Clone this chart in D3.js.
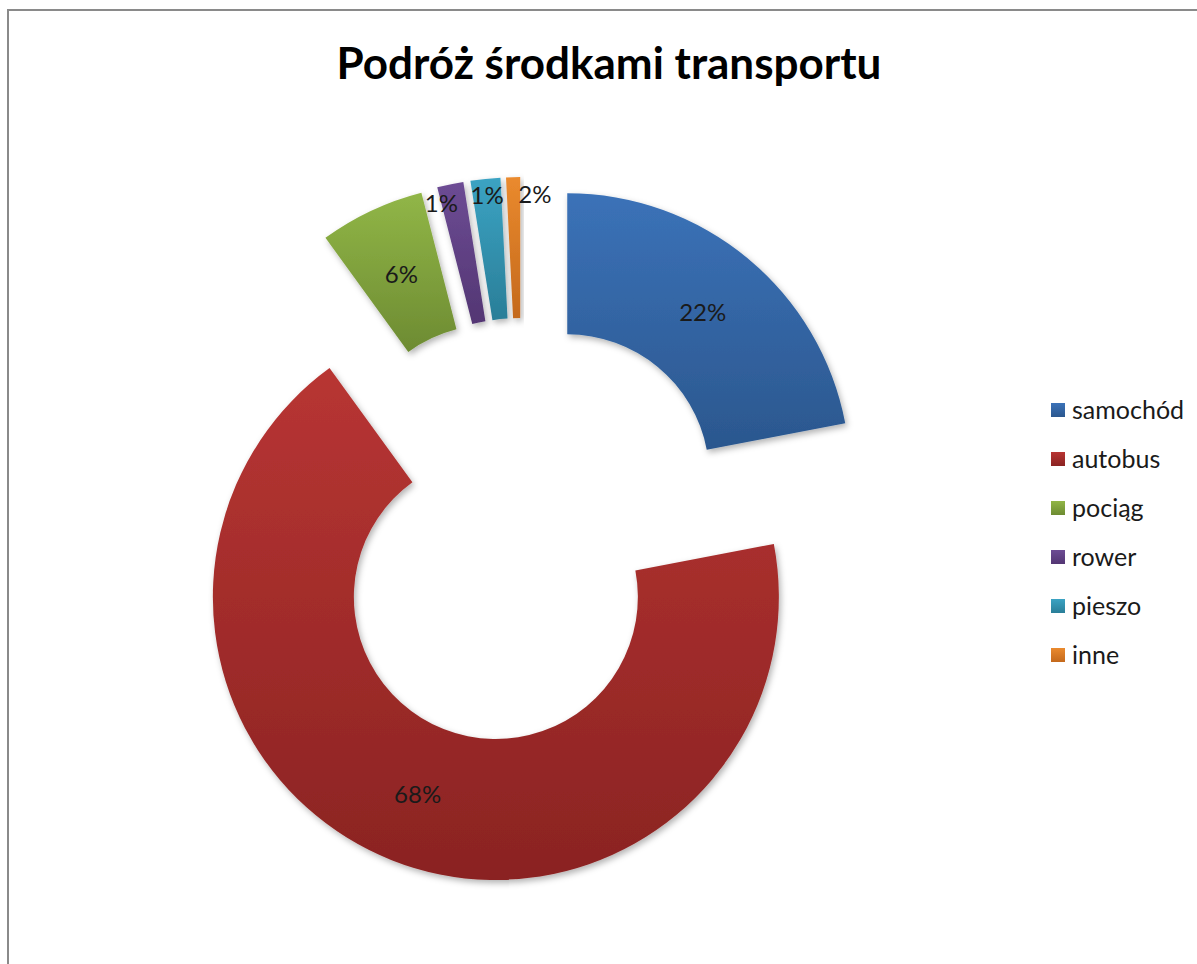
<!DOCTYPE html>
<html>
<head>
<meta charset="utf-8">
<script src="https://cdn.jsdelivr.net/npm/d3@7"></script>
<style>
  body { margin: 0; background: #fff; }
  svg { display: block; font-family: Lato, "Open Sans", sans-serif; }
</style>
</head>
<body>
<svg id="chart" width="1197" height="964"></svg>
<script>
// data
var categories = ["samochód", "autobus", "pociąg", "rower", "pieszo", "inne"];
var values = [22, 68, 6, 1.5, 1.7, 0.8];
var labels = ["22%", "68%", "6%", "1%", "1%", "2%"];
var colorsTop = ["#3b72b8", "#b83533", "#91b647", "#6d4c94", "#3ba3c3", "#ea8a2e"];
var colorsBottom = ["#2b578e", "#8a2322", "#6d8b32", "#533673", "#2a7e98", "#c4691c"];

var svg = d3.select("#chart");
var defs = svg.append("defs");

// soft shadow like excel
var f = defs.append("filter").attr("id", "shadow")
    .attr("x", "-20%").attr("y", "-20%").attr("width", "140%").attr("height", "140%");
f.append("feDropShadow").attr("dx", 2).attr("dy", 3).attr("stdDeviation", 3)
    .attr("flood-color", "#000").attr("flood-opacity", 0.3);

categories.forEach(function (c, i) {
    var g = defs.append("linearGradient").attr("id", "grad" + i)
        .attr("x1", 0).attr("y1", 0).attr("x2", 0).attr("y2", 1);
    g.append("stop").attr("offset", "0%").attr("stop-color", colorsTop[i]);
    g.append("stop").attr("offset", "100%").attr("stop-color", colorsBottom[i]);
});

// frame (runs off the right and bottom edge)
svg.append("rect")
    .attr("x", 8).attr("y", 10)
    .attr("width", 1260).attr("height", 1000)
    .attr("fill", "none").attr("stroke", "#8a8a8a").attr("stroke-width", 2);

svg.append("text")
    .attr("x", 609).attr("y", 79)
    .attr("text-anchor", "middle")
    .attr("font-size", 44).attr("font-weight", "bold")
    .attr("fill", "#000")
    .text("Podróż środkami transportu");

var cx = 522, cy = 531;
var outerR = 283, innerR = 142, explode = 71;

var data = categories.map(function (c, i) {
    return {name: c, value: values[i], label: labels[i], idx: i};
});

var pie = d3.pie().sort(null).value(function (d) { return d.value; });
var arc = d3.arc().innerRadius(innerR).outerRadius(outerR);
var arcs = pie(data);

function offset(d) {
    var a = (d.startAngle + d.endAngle) / 2;
    return [explode * Math.sin(a), -explode * Math.cos(a)];
}

var slices = svg.append("g").attr("transform", "translate(" + cx + "," + cy + ")");

slices.selectAll("path")
    .data(arcs)
    .enter().append("path")
    .attr("transform", function (d) {
        var o = offset(d);
        return "translate(" + o[0] + "," + o[1] + ")";
    })
    .attr("d", arc)
    .attr("fill", function (d) { return "url(#grad" + d.data.idx + ")"; })
    .attr("filter", "url(#shadow)");

// thin slices get their label pushed outside, spread a little
var nudge = [0, 0, 0, -2.7, 0, 4.6];
slices.selectAll("text")
    .data(arcs)
    .enter().append("text")
    .attr("transform", function (d) {
        var o = offset(d);
        var p;
        if (d.data.value < 3) {
            var a = (d.startAngle + d.endAngle) / 2 + nudge[d.data.idx] * Math.PI / 180;
            p = [266 * Math.sin(a), -266 * Math.cos(a)];
        } else {
            p = arc.centroid(d);
        }
        return "translate(" + (p[0] + o[0]) + "," + (p[1] + o[1]) + ")";
    })
    .attr("text-anchor", "middle")
    .attr("dy", "0.35em")
    .attr("font-size", 24)
    .attr("fill", "#1a1a1a")
    .text(function (d) { return d.data.label; });

// legend
var legend = svg.append("g");
var rowY = d3.scalePoint().domain(categories).range([410, 655]);

var rows = legend.selectAll("g")
    .data(data)
    .enter().append("g")
    .attr("transform", function (d) { return "translate(1051," + rowY(d.name) + ")"; });

rows.append("rect")
    .attr("x", 0).attr("y", -7)
    .attr("width", 14).attr("height", 14)
    .attr("fill", function (d) { return "url(#grad" + d.idx + ")"; });

rows.append("text")
    .attr("x", 21).attr("dy", "0.35em")
    .attr("font-size", 25)
    .attr("fill", "#1a1a1a")
    .text(function (d) { return d.name; });
</script>
</body>
</html>
